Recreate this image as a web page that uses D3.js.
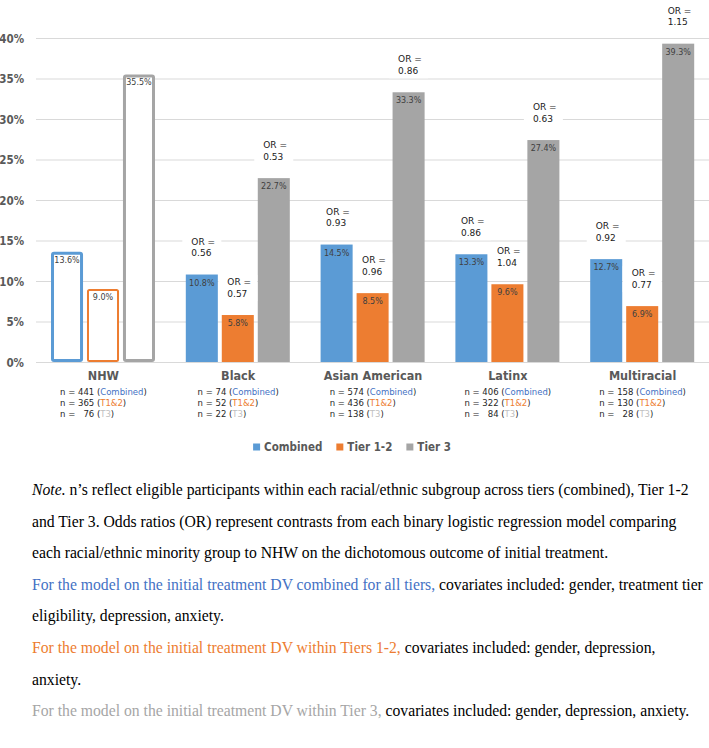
<!DOCTYPE html>
<html>
<head>
<meta charset="utf-8">
<script src="https://cdn.jsdelivr.net/npm/d3@7"></script>
<style>
  html, body { margin: 0; padding: 0; background: #fff; }
  svg { display: block; }
</style>
</head>
<body>
<svg id="chart" width="709" height="748"></svg>
<script>
// ---------- data ----------
const groups = ["NHW", "Black", "Asian American", "Latinx", "Multiracial"];
const seriesNames = ["Combined", "Tier 1-2", "Tier 3"];
const combinedPct = [13.6, 10.8, 14.5, 13.3, 12.7];
const tier12Pct = [9.0, 5.8, 8.5, 9.6, 6.9];
const tier3Pct = [35.5, 22.7, 33.3, 27.4, 39.3];
const orCombined = [null, 0.56, 0.93, 0.86, 0.92];
const orTier12 = [null, 0.57, 0.96, 1.04, 0.77];
const orTier3 = [null, 0.53, 0.86, 0.63, 1.15];
const nCombined = [441, 74, 574, 406, 158];
const nTier12 = [365, 52, 436, 322, 130];
const nTier3 = [76, 22, 138, 84, 28];
const nTags = ["Combined", "T1&2", "T3"];
const yTicks = [0, 5, 10, 15, 20, 25, 30, 35, 40];
const noteLines = [
  [["Note.", "italic"], [" n\u2019s reflect eligible participants within each racial/ethnic subgroup across tiers (combined), Tier 1-2", null]],
  [["and Tier 3. Odds ratios (OR) represent contrasts from each binary logistic regression model comparing", null]],
  [["each racial/ethnic minority group to NHW on the dichotomous outcome of initial treatment.", null]],
  [["For the model on the initial treatment DV combined for all tiers,", "c0"], [" covariates included: gender, treatment tier", null]],
  [["eligibility, depression, anxiety.", null]],
  [["For the model on the initial treatment DV within Tiers 1-2,", "c1"], [" covariates included: gender, depression,", null]],
  [["anxiety.", null]],
  [["For the model on the initial treatment DV within Tier 3,", "c2"], [" covariates included: gender, depression, anxiety.", null]]
];

// ---------- styles ----------
const colors = ["#5B9BD5", "#ED7D31", "#A5A5A5"];
const tagColors = ["#4472C4", "#ED7D31", "#BFBFBF"];
const noteColors = { c0: "#4472C4", c1: "#ED7D31", c2: "#A6A6A6" };
const condBold = "'DejaVu Sans Condensed', 'DejaVu Sans', sans-serif";
const sans = "'DejaVu Sans', sans-serif";

const values = [combinedPct, tier12Pct, tier3Pct];
const ors = [orCombined, orTier12, orTier3];
const ns = [nCombined, nTier12, nTier3];

const svg = d3.select("#chart");
svg.append("rect").attr("width", 709).attr("height", 748).attr("fill", "#fff");

const plotL = 36, plotR = 709, plotT = 38, plotB = 362;
const y = d3.scaleLinear().domain([0, 40]).range([plotB, plotT]);
const x0 = d3.scaleBand().domain(groups).range([plotL, 710]).padding(0);
const x1 = d3.scaleBand().domain(seriesNames).range([15, 119]).paddingInner(0.11).paddingOuter(0);

// axis + gridlines
const axis = d3.axisLeft(y).tickValues(yTicks).tickSize(-(plotR - plotL)).tickPadding(12).tickFormat(d => d + "%");
const gAxis = svg.append("g").attr("transform", `translate(${plotL},0)`).call(axis);
gAxis.select(".domain").remove();
gAxis.selectAll(".tick line").attr("stroke", "#D9D9D9").attr("stroke-width", 1);
gAxis.selectAll(".tick text")
  .attr("font-family", condBold).attr("font-weight", "bold").attr("font-size", 11.5)
  .attr("fill", "#595959").attr("dy", "0.36em");

// bars
const gBars = svg.append("g");
groups.forEach((g, gi) => {
  seriesNames.forEach((s, si) => {
    const v = values[si][gi];
    const bx = x0(g) + x1(s), bw = x1.bandwidth();
    const by = y(v), bh = y(0) - y(v);
    if (gi === 0) {
      const sw = si === 1 ? 2 : 3;
      gBars.append("rect")
        .attr("x", bx + sw / 2).attr("y", by + sw / 2)
        .attr("width", bw - sw).attr("height", bh - sw)
        .attr("rx", 1.5)
        .attr("fill", "#fff").attr("stroke", colors[si]).attr("stroke-width", sw);
    } else {
      gBars.append("rect")
        .attr("x", bx).attr("y", by).attr("width", bw).attr("height", bh)
        .attr("fill", colors[si]);
    }
    gBars.append("text")
      .attr("x", bx + bw / 2).attr("y", by + 11)
      .attr("text-anchor", "middle")
      .attr("font-family", sans).attr("font-size", 8)
      .attr("fill", "#404040")
      .text(v.toFixed(1) + "%");
  });
});

// OR labels
const gOr = svg.append("g");
groups.forEach((g, gi) => {
  seriesNames.forEach((s, si) => {
    const o = ors[si][gi];
    if (o == null) return;
    const cx = x0(g) + x1(s) + x1.bandwidth() / 2;
    const by = y(values[si][gi]);
    const b2 = by - 18.5, b1 = b2 - 11.5;
    gOr.append("rect")
      .attr("x", cx - 19.5).attr("y", b1 - 10).attr("width", 39).attr("height", 26)
      .attr("fill", "#fff");
    const t = gOr.append("text")
      .attr("font-family", sans).attr("font-size", 9).attr("fill", "#1a1a1a");
    t.append("tspan").attr("x", cx - 10.5).attr("y", b1).text("OR =");
    t.append("tspan").attr("x", cx - 10.5).attr("y", b2).text(o.toFixed(2));
  });
});

// category labels
const gCat = svg.append("g");
groups.forEach((g, gi) => {
  const cx = x0(g) + x0.bandwidth() / 2;
  gCat.append("text")
    .attr("x", cx).attr("y", 380)
    .attr("text-anchor", "middle")
    .attr("font-family", condBold).attr("font-weight", "bold").attr("font-size", 12.5)
    .attr("fill", "#595959")
    .text(g);
  // n lines
  const maxDigits = d3.max(ns, arr => String(arr[gi]).length);
  const block = gCat.append("g");
  const texts = [];
  ns.forEach((arr, li) => {
    const nStr = String(arr[gi]);
    const pad = "\u2007".repeat(maxDigits - nStr.length);
    const t = block.append("text")
      .attr("y", 395 + li * 11)
      .attr("font-family", sans).attr("font-size", 8.5)
      .attr("fill", "#262626")
      .style("white-space", "pre");
    t.append("tspan").text("n = " + pad + nStr + " (");
    t.append("tspan").attr("fill", tagColors[li]).text(nTags[li]);
    t.append("tspan").text(")");
    texts.push(t);
  });
  const w = d3.max(texts, t => t.node().getComputedTextLength());
  texts.forEach(t => t.attr("x", cx - w / 2));
});

// legend
const gLeg = svg.append("g");
const items = [];
seriesNames.forEach((s, si) => {
  const it = gLeg.append("g");
  it.append("rect").attr("x", 0).attr("y", -7.5).attr("width", 7).attr("height", 7).attr("fill", colors[si]);
  const t = it.append("text").attr("x", 11).attr("y", 0)
    .attr("font-family", condBold).attr("font-weight", "bold").attr("font-size", 11.5)
    .attr("fill", "#595959").text(s);
  items.push([it, 11 + t.node().getComputedTextLength()]);
});
const legGap = 14;
const totalW = d3.sum(items, d => d[1]) + legGap * (items.length - 1);
let cur = 352 - totalW / 2;
items.forEach(([it, w]) => { it.attr("transform", `translate(${cur},451)`); cur += w + legGap; });

// note text
const gNote = svg.append("g");
noteLines.forEach((parts, li) => {
  const t = gNote.append("text")
    .attr("x", 32).attr("y", 495 + li * 31.6)
    .attr("font-family", "'Liberation Serif', 'Times New Roman', serif")
    .attr("font-size", 15.7).attr("fill", "#000")
    .style("white-space", "pre");
  parts.forEach(([txt, st]) => {
    const sp = t.append("tspan").text(txt);
    if (st === "italic") sp.attr("font-style", "italic");
    else if (st) sp.attr("fill", noteColors[st]);
  });
});
</script>
</body>
</html>
